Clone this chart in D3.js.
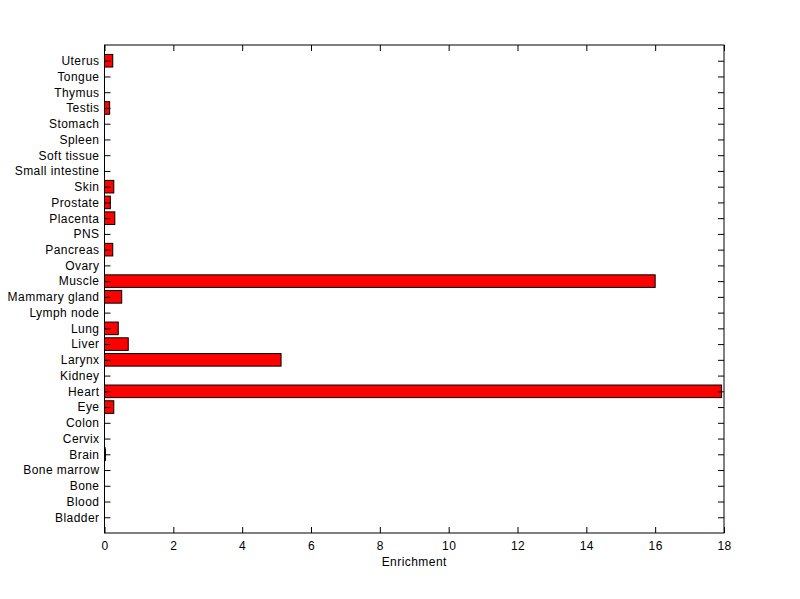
<!DOCTYPE html>
<html><head><meta charset="utf-8">
<script src="https://cdn.jsdelivr.net/npm/d3@7"></script>
<style>body{margin:0;background:#fff}svg{display:block}text{font-family:"Liberation Sans",Arial,sans-serif;font-size:12px;fill:#000;letter-spacing:0.45px}</style>
</head><body>
<script>
const categories = ["Bladder","Blood","Bone","Bone marrow","Brain","Cervix","Colon","Eye","Heart","Kidney","Larynx","Liver","Lung","Lymph node","Mammary gland","Muscle","Ovary","Pancreas","PNS","Placenta","Prostate","Skin","Small intestine","Soft tissue","Spleen","Stomach","Testis","Thymus","Tongue","Uterus"];
const values = [0,0,0,0,0.03,0,0,0.27,17.93,0,5.13,0.69,0.40,0,0.50,16.0,0,0.24,0,0.30,0.17,0.27,0,0,0,0,0.15,0,0,0.24];
const xTicks = [0,2,4,6,8,10,12,14,16,18];
const xLabel = "Enrichment";

const W=800,H=599, L=104.5, R=724, T=45, B=533;
const svg=d3.select("body").append("svg").attr("width",W).attr("height",H);
const x=d3.scaleLinear().domain([0,18]).range([L,R]);
const y=d3.scaleLinear().domain([0,categories.length+1]).range([B,T]);
const bw=(y(0)-y(1))*0.8;

svg.append("g").selectAll("rect").data(values).join("rect")
  .attr("x",x(0)).attr("y",(d,i)=>y(i+1)-bw/2)
  .attr("width",d=>Math.max(0,x(d)-x(0))).attr("height",bw)
  .attr("fill","#ff0000").attr("stroke","#000").attr("stroke-width",1);

const tl=6;
const gb=svg.append("g").attr("transform",`translate(0,${B})`)
  .call(d3.axisBottom(x).tickValues(xTicks).tickSize(-tl).tickPadding(8).tickFormat(d3.format("d")));
const gt=svg.append("g").attr("transform",`translate(0,${T})`)
  .call(d3.axisTop(x).tickValues(xTicks).tickSize(-tl).tickFormat(""));
const yT=d3.range(1,categories.length+1);
const gl=svg.append("g").attr("transform",`translate(${L},0)`)
  .call(d3.axisLeft(y).tickValues(yT).tickSize(-tl).tickPadding(5).tickFormat(d=>categories[d-1]));
const gr=svg.append("g").attr("transform",`translate(${R},0)`)
  .call(d3.axisRight(y).tickValues(yT).tickSize(-tl).tickFormat(""));
[gb,gt,gl,gr].forEach(g=>{g.select(".domain").remove();g.selectAll("line").attr("stroke","#000");g.selectAll("text").attr("font-size",12).attr("font-family","Liberation Sans, Arial, sans-serif").attr("fill","#000");});
svg.append("rect").attr("x",L).attr("y",T).attr("width",R-L).attr("height",B-T).attr("fill","none").attr("stroke","#000");
svg.append("text").attr("x",(L+R)/2).attr("y",566).attr("text-anchor","middle").text(xLabel);
</script>
</body></html>
